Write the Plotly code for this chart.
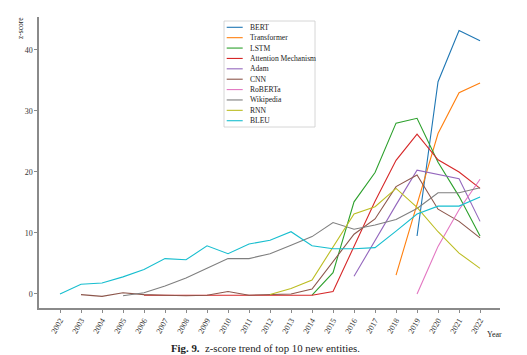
import plotly.graph_objects as go

# ---------------- data ----------------
names = ["BERT", "Transformer", "LSTM", "Attention Mechanism", "Adam",
         "CNN", "RoBERTa", "Wikipedia", "RNN", "BLEU"]
colors = ["#1f77b4", "#ff7f0e", "#2ca02c", "#d62728", "#9467bd",
          "#8c564b", "#e377c2", "#7f7f7f", "#bcbd22", "#17becf"]

bert_years = list(range(2019, 2023))
bert_vals = [9.5, 34.8, 43.2, 41.5]

transformer_years = list(range(2018, 2023))
transformer_vals = [3.1, 14.5, 26.3, 33.0, 34.6]

lstm_years = list(range(2014, 2023))
lstm_vals = [-0.2, 3.5, 15.1, 19.9, 28.0, 28.8, 21.6, 16.0, 9.5]

attention_years = list(range(2006, 2023))
attention_vals = [-0.2, -0.2, -0.3, -0.3, -0.2, -0.3, -0.2, -0.2, -0.2,
                  0.4, 7.8, 15.2, 21.9, 26.2, 22.0, 20.0, 17.3]

adam_years = list(range(2016, 2023))
adam_vals = [2.9, 8.8, 14.6, 20.3, 19.6, 18.9, 11.9]

cnn_years = list(range(2003, 2023))
cnn_vals = [-0.1, -0.4, 0.2, -0.1, -0.2, -0.3, -0.2, 0.4, -0.2, -0.1,
            0.0, 0.8, 5.4, 9.8, 12.3, 17.6, 19.5, 13.9, 11.9, 9.2]

roberta_years = list(range(2019, 2023))
roberta_vals = [0.0, 7.8, 13.8, 18.8]

wikipedia_years = list(range(2005, 2023))
wikipedia_vals = [-0.3, 0.2, 1.3, 2.6, 4.2, 5.8, 5.8, 6.6, 8.0, 9.4,
                  11.7, 10.6, 11.3, 12.2, 14.0, 16.6, 16.6, 17.4]

rnn_years = list(range(2012, 2023))
rnn_vals = [-0.1, 0.9, 2.3, 7.6, 13.1, 14.3, 17.3, 14.2, 10.2, 6.7, 4.2]

bleu_years = list(range(2002, 2023))
bleu_vals = [0.0, 1.6, 1.8, 2.8, 4.0, 5.8, 5.6, 7.9, 6.6, 8.2, 8.8,
             10.2, 7.9, 7.4, 7.4, 7.6, 10.3, 13.1, 14.4, 14.4, 15.9]

series_years = [bert_years, transformer_years, lstm_years, attention_years,
                adam_years, cnn_years, roberta_years, wikipedia_years,
                rnn_years, bleu_years]
series_vals = [bert_vals, transformer_vals, lstm_vals, attention_vals,
               adam_vals, cnn_vals, roberta_vals, wikipedia_vals,
               rnn_vals, bleu_vals]

year_ticks = list(range(2002, 2023))
y_ticks = [0, 10, 20, 30, 40]

# ---------------- layout geometry ----------------
OFF = 8  # page body margin
W, H = 527 - OFF, 355 - OFF
# plot area in reference-window pixels
L, R, T, B = 39, 500, 17, 308


def px(x):
    return (x - L) / (R - L)


def py(y):
    return (B - y) / (B - T)


SERIF = "Liberation Serif, Times New Roman, serif"

fig = go.Figure()
for n, c, xs, ys in zip(names, colors, series_years, series_vals):
    fig.add_trace(go.Scatter(x=xs, y=ys, mode="lines", name=n,
                             line=dict(color=c, width=1.1),
                             showlegend=False))

axis_common = dict(showline=True, linecolor="#8a8a8a", linewidth=1.5,
                   ticks="outside", ticklen=3, tickcolor="#8a8a8a",
                   tickwidth=1, showgrid=False, zeroline=False,
                   tickfont=dict(family=SERIF, size=8, color="#333333"))

fig.update_xaxes(range=[2001.0, 2022.95], tickvals=year_ticks,
                 ticktext=[str(y) for y in year_ticks], tickangle=-60,
                 **axis_common)
fig.update_yaxes(range=[-2.3, 45.4], tickvals=y_ticks, **axis_common)

shapes = []
annotations = []

# legend box
shapes.append(dict(type="rect", xref="paper", yref="paper",
                   x0=px(224), x1=px(315), y0=py(127), y1=py(21),
                   line=dict(color="#cccccc", width=0.8),
                   fillcolor="rgba(255,255,255,0.85)", layer="above"))
for i, (n, c) in enumerate(zip(names, colors)):
    yy = 27.3 + 10.38 * i
    shapes.append(dict(type="line", xref="paper", yref="paper",
                       x0=px(226.7), x1=px(242.7), y0=py(yy), y1=py(yy),
                       line=dict(color=c, width=1.1), layer="above"))
    annotations.append(dict(xref="paper", yref="paper", x=px(248.3), y=py(yy),
                            xanchor="left", yanchor="middle", text=n,
                            showarrow=False,
                            font=dict(family=SERIF, size=7.6, color="#222222")))

# axis labels
annotations.append(dict(xref="paper", yref="paper", x=px(21), y=py(28),
                        text="z-score", textangle=-90, showarrow=False,
                        xanchor="center", yanchor="middle",
                        font=dict(family=SERIF, size=7.5, color="#222222")))
annotations.append(dict(xref="paper", yref="paper", x=px(494), y=py(334),
                        text="Year", showarrow=False,
                        xanchor="center", yanchor="middle",
                        font=dict(family=SERIF, size=8, color="#222222")))
# caption
annotations.append(dict(xref="paper", yref="paper", x=px(265), y=py(347.5),
                        text="<b>Fig. 9.</b>  z-score trend of top 10 new entities.",
                        showarrow=False, xanchor="center", yanchor="middle",
                        font=dict(family=SERIF, size=10.8, color="#222222")))

fig.update_layout(width=W, height=H, autosize=False,
                  margin=dict(l=L - OFF, r=527 - R, t=T - OFF, b=355 - B, pad=0),
                  paper_bgcolor="white", plot_bgcolor="white",
                  shapes=shapes, annotations=annotations, showlegend=False)

fig.write_html("out.html")
